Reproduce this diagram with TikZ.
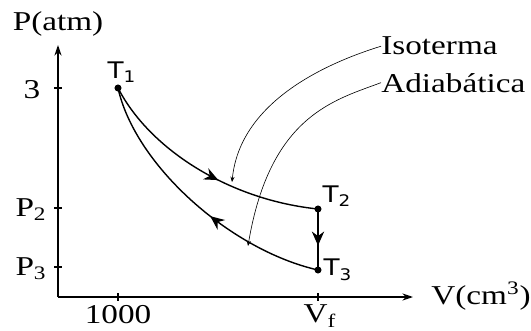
\documentclass[tikz,border=0pt]{standalone}
\usepackage{fontspec}
\setmainfont{Liberation Serif}[FakeStretch=1.22]
\newfontfamily\tfont{DejaVu Sans}[FakeStretch=1.15]
\usetikzlibrary{arrows.meta,positioning,decorations.markings}

\begin{document}
\begin{tikzpicture}[x=0.02cm, y=-0.02cm,
  axis/.style={line width=0.8pt, -{Stealth[length=6pt,width=4pt]}},
  tick/.style={line width=0.7pt},
  curve/.style={line width=0.8pt},
  pt/.style={circle, fill, inner sep=0pt, minimum size=4pt},
  lbl/.style={font=\fontsize{15.5}{18}\selectfont, inner sep=0pt},
  tlbl/.style={font=\tfont\fontsize{13}{15}\selectfont, inner sep=0pt},
  pointer/.style={line width=0.35pt, -{Stealth[length=3pt,width=2.4pt]}},
  fwd/.style={postaction={decorate}, decoration={markings,
    mark=at position #1 with {\arrow{Stealth[length=8pt,width=7pt]}}}},
  bwd/.style={postaction={decorate}, decoration={markings,
    mark=at position #1 with {\arrowreversed{Stealth[length=8pt,width=7pt]}}}}
]
\useasboundingbox (0,0) rectangle (531,331);

% axes
\coordinate (o) at (58,297);
\coordinate (ytop) at (58,45);
\coordinate (xend) at (413,297);
\draw [axis] (o) -- (ytop);
\draw [axis] (o) -- (xend);
\node [lbl] (ylab) at (58,24) {P(atm)};
\node [lbl, anchor=base west] (xlab) at (431,304) {V(cm\textsuperscript{3})};

% ticks
\foreach \y in {88,208,267} {
  \draw [tick] (54,\y) -- (62,\y);
}
\foreach \x in {118,318} {
  \draw [tick] (\x,293) -- (\x,301);
}
\node [lbl] (p3atm) at (32,90) {3};
\node [lbl] (pb) at (31,210) {P\textsubscript{2}};
\node [lbl] (pc) at (31,269) {P\textsubscript{3}};
\node [lbl] (vi) at (118,315) {1000};
\node [lbl] (vf) at (320,316) {V\textsubscript{f}};

% states
\node [pt] (t1) at (118,88) {};
\node [pt] (t2) at (318,209) {};
\node [pt] (t3) at (318,270) {};
\node [tlbl] (t1lab) at (122,72) {T\textsubscript{1}};
\node [tlbl] (t2lab) at (337,196) {T\textsubscript{2}};
\node [tlbl] (t3lab) at (338,270) {T\textsubscript{3}};

% cycle
\draw [curve, fwd=0.57] (t1.center) .. controls (150,150) and (230,200) .. (t2.center);
\draw [curve, fwd=0.6] (t2.center) -- (t3.center);
\draw [curve, bwd=0.57] (t1.center) .. controls (135,165) and (230,250) .. (t3.center);

% labels
\node [lbl, anchor=base west] (isot) at (381,55) {Isoterma};
\node [lbl, anchor=base west] (adiab) at (381,92) {Adiabática};
\coordinate (isoend) at (232,182);
\coordinate (adend) at (248,246);
\draw [pointer] (isot.west) .. controls (330,62) and (240,100) .. (isoend);
\draw [pointer] (adiab.west) .. controls (335,100) and (270,115) .. (adend);
\end{tikzpicture}
\end{document}
